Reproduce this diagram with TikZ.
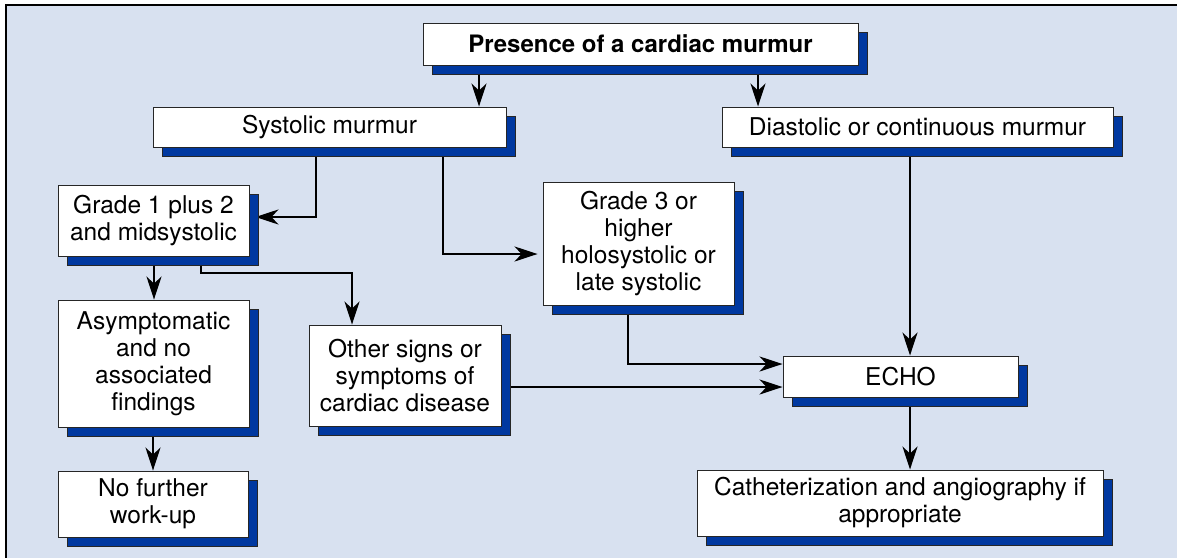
\documentclass[tikz,border=0pt]{standalone}
\usepackage{fontspec}
\setmainfont{TeX Gyre Heros}
\usetikzlibrary{arrows.meta,shadows,calc}
\definecolor{bgblue}{RGB}{216,225,240}
\definecolor{sblue}{RGB}{0,56,160}
\pgfdeclarelayer{edges}
\pgfdeclarelayer{bg}
\pgfsetlayers{bg,edges,main}
\begin{document}
\begin{tikzpicture}[x=1pt,y=-1pt,
  box/.style={draw=black!85, line width=0.9pt, fill=white, align=center, inner sep=2pt,
     font=\fontsize{24.5}{27}\selectfont,
     drop shadow={shadow xshift=9pt, shadow yshift=-9pt, fill=sblue, draw=black!85, line width=0.9pt, opacity=1}},
  conn/.style={line width=2.3pt, draw=black},
  arr/.style={conn, -{Stealth[length=23pt 0 0,width=15pt 0 0,inset=7pt]}}]

\useasboundingbox (0,0) rectangle (1177,557);
\begin{pgfonlayer}{bg}
\path[fill=bgblue] (6,5) rectangle (1190,570);
\draw[line width=1.2pt] (6,570) -- (6,5) -- (1190,5);
\end{pgfonlayer}

\node[box, minimum width=435pt, minimum height=42pt] (pres) at (640.5,44) {\fontsize{24}{27}\selectfont\bfseries Presence of a cardiac murmur};
\node[box, minimum width=353pt, minimum height=40pt] (sys) at (329.5,127) {Systolic murmur};
\node[box, minimum width=391pt, minimum height=40pt] (dia) at (917.5,127) {Diastolic or continuous murmur};
\node[box, minimum width=191pt, minimum height=71pt] (g1) at (153.5,220.5) {Grade 1 plus 2\\and midsystolic};
\node[box, minimum width=191pt, minimum height=123pt] (g3) at (638.5,243.5) {Grade 3 or\\higher\\holosystolic or\\late systolic};
\node[box, minimum width=191pt, minimum height=127pt] (asy) at (153.5,363.5) {Asymptomatic\\and no\\associated\\findings};
\node[box, minimum width=192pt, minimum height=101pt] (oth) at (405,375.5) {Other signs or\\symptoms of\\cardiac disease};
\node[box, minimum width=235pt, minimum height=41pt] (echo) at (900.5,376.5) {ECHO};
\node[box, minimum width=190pt, minimum height=66pt] (nof) at (153,504) {No further\\work-up};
\node[box, minimum width=406pt, minimum height=66pt] (cath) at (900,503) {Catheterization and angiography if\\appropriate};

\begin{pgfonlayer}{edges}
\draw[arr] (pres.south -| 479,0) -- (sys.north -| 479,0);
\draw[arr] (pres.south -| 758,0) -- (dia.north -| 758,0);
\draw[arr] (dia.south -| 910,0) -- (echo.north -| 910,0);
\draw[arr] (sys.south -| 316,0) |- ($(g1.east)+(6,-3.5)$);
\draw[arr] (sys.south -| 443,0) |- ($(g3.west)+(-5,10.5)$);
\draw[arr] (g1.south -| 154,0) -- (asy.north -| 154,0);
\draw[arr] (g1.south -| 201,0) -- (201,273) -| (oth.north -| 352,0);
\draw[arr] (g3.south -| 628,0) |- ($(echo.west)+(0,-12.5)$);
\draw[arr] (oth.east |- 0,387) -- (echo.west |- 0,387);
\draw[arr] (echo.south -| 910,0) -- (cath.north -| 910,0);
\draw[arr] (asy.south -| 153,0) -- (nof.north -| 153,0);
\end{pgfonlayer}
\end{tikzpicture}
\end{document}
